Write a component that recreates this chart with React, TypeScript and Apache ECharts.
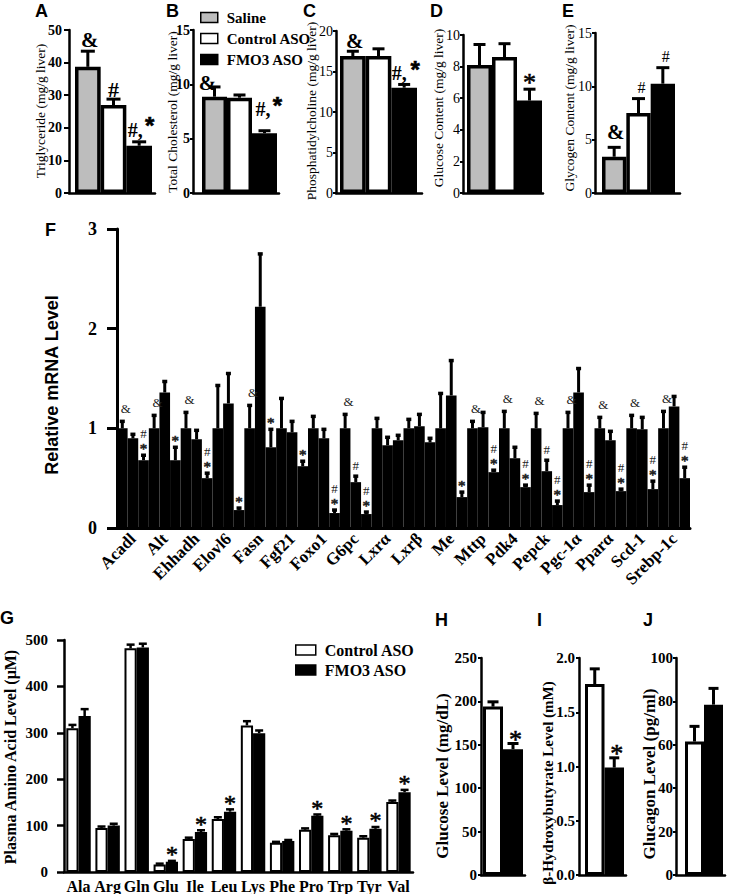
import React, { useEffect, useRef } from 'react';
import * as echarts from 'echarts';

const SERIF = '"Liberation Serif", "Times New Roman", Times, serif';
const SANS = '"Liberation Sans", Arial, Helvetica, sans-serif';
const GRAY = '#bdbdbd';
const WHITE = '#ffffff';
const BLACK = '#000000';

// ---------------- DATA ----------------
const groupNames = ['Saline', 'Control ASO', 'FMO3 ASO'];

// A
const triglyceride = [38.7, 27.0, 14.5];
const triglycerideErr = [4.8, 1.8, 1.2];
const triglycerideSig = ['&', '#', '#,*'];
// B
const cholesterol = [8.86, 8.77, 5.5];
const cholesterolErr = [0.9, 0.25, 0.23];
const cholesterolSig = ['&', '', '#,*'];
// C
const phosphatidylcholine = [16.9, 16.9, 13.0];
const phosphatidylcholineErr = [0.6, 0.9, 0.4];
const phosphatidylcholineSig = ['&', '', '#,*'];
// D
const glucoseContent = [8.1, 8.6, 5.85];
const glucoseContentErr = [1.3, 0.85, 0.72];
const glucoseContentSig = ['', '', '*'];
// E
const glycogenContent = [3.4, 7.5, 10.25];
const glycogenContentErr = [0.88, 1.35, 1.5];
const glycogenContentSig = ['&', '#', '#'];

// F
const genes = ['Acadl', 'Alt', 'Ehhadh', 'Elovl6', 'Fasn', 'Fgf21', 'Foxo1', 'G6pc', 'Lxrα', 'Lxrβ', 'Me', 'Mttp', 'Pdk4', 'Pepck', 'Pgc-1α', 'Pparα', 'Scd-1', 'Srebp-1c'];
const mrnaSaline = [1, 1, 1, 1, 1, 1, 1, 1, 1, 1, 1, 1, 1, 1, 1, 1, 1, 1];
const mrnaSalineErr = [0.07, 0.13, 0.16, 0.43, 0.23, 0.3, 0.12, 0.14, 0.1, 0.09, 0.35, 0.07, 0.17, 0.15, 0.16, 0.11, 0.13, 0.17];
const mrnaSalineSig = ['&', '&', '&', '', '&', '', '', '&', '', '', '', '&', '&', '&', '&', '&', '&', '&'];
const mrnaControl = [0.9, 1.36, 0.89, 1.25, 2.22, 0.96, 0.9, 0.46, 0.83, 1.02, 1.33, 1.01, 0.7, 0.57, 1.36, 0.88, 0.99, 1.22];
const mrnaControlErr = [0.04, 0.11, 0.09, 0.3, 0.53, 0.11, 0.09, 0.06, 0.08, 0.12, 0.35, 0.15, 0.11, 0.11, 0.24, 0.09, 0.12, 0.1];
const mrnaControlSig = ['', '', '', '', '', '', '', '#', '', '', '', '', '', '#', '', '', '', ''];
const mrnaFmo3 = [0.68, 0.68, 0.5, 0.18, 0.81, 0.62, 0.15, 0.14, 0.88, 0.86, 0.31, 0.56, 0.41, 0.23, 0.36, 0.37, 0.39, 0.5];
const mrnaFmo3Err = [0.05, 0.13, 0.05, 0.02, 0.18, 0.05, 0.03, 0.02, 0.05, 0.04, 0.05, 0.02, 0.02, 0.04, 0.07, 0.02, 0.08, 0.11];
const mrnaFmo3Sig = ['#*', '*', '#*', '*', '*', '*', '#*', '#*', '', '', '*', '#*', '#*', '#*', '#*', '#*', '#*', '#*'];

// G
const aminoAcids = ['Ala', 'Arg', 'Gln', 'Glu', 'Ile', 'Leu', 'Lys', 'Phe', 'Pro', 'Trp', 'Tyr', 'Val'];
const aaControl = [310, 95, 482, 16, 71, 114, 316, 63, 91, 79, 74, 151];
const aaControlErr = [7, 3, 8, 2, 3, 4, 9, 2, 3, 3, 3, 3];
const aaControlSig = ['', '', '', '', '', '', '', '', '', '', '', ''];
const aaFmo3 = [336, 100, 484, 22, 86, 130, 299, 67, 121, 89, 93, 172];
const aaFmo3Err = [15, 4, 8, 2, 4, 5, 6, 2, 3, 3, 4, 5];
const aaFmo3Sig = ['', '', '', '*', '*', '*', '', '', '*', '*', '*', '*'];

// H, I, J
const plasmaGlucose = [194, 145];
const plasmaGlucoseErr = [5.5, 6.5];
const plasmaGlucoseSig = ['', '*'];
const hydroxybutyrate = [1.76, 0.99];
const hydroxybutyrateErr = [0.14, 0.09];
const hydroxybutyrateSig = ['', '*'];
const glucagon = [61.5, 78.5];
const glucagonErr = [7, 7.5];
const glucagonSig = ['', ''];

// ---------------- LAYOUT / STYLE ----------------
type SigPart = [string, number, number, string, number, boolean];
type SigSpec = Record<string, SigPart[]>;

const SIG_A: SigSpec = {
  '&': [['&', 2, -11, SERIF, 21, true]],
  '#': [['#', 0, -10, SERIF, 22, true]],
  '#,*': [['#,', -4, -12, SERIF, 20, true], ['*', 10.5, -22, SANS, 24, true]],
};
const SIG_B: SigSpec = {
  '&': [['&', -7, -4, SERIF, 21, true]],
  '#,*': [['#,', -1.5, -22, SERIF, 20, true], ['*', 13, -31, SANS, 24, true]],
};
const SIG_C: SigSpec = {
  '&': [['&', 2, -10, SERIF, 21, true]],
  '#,*': [['#,', -5, -11, SERIF, 20, true], ['*', 11, -20, SANS, 24, true]],
};
const SIG_D: SigSpec = { '*': [['*', 0, -10, SERIF, 26, false]] };
const SIG_E: SigSpec = {
  '&': [['&', 1.5, -15, SERIF, 21, true]],
  '#': [['#', 3, -11.5, SERIF, 16, false]],
};
const SIG_HI: SigSpec = { '*': [['*', 2.5, -8, SERIF, 26, false]] };
const SIG_G: SigSpec = { '*': [['*', 0, -10, SERIF, 24, false]] };
const SIG_F: SigSpec = {
  '&': [['&', 3.5, -13, SERIF, 13, false]],
  '#': [['#', 0, -11, SERIF, 13, false]],
  '*': [['*', 0, -8, SERIF, 15, false]],
  '#*': [['#', 0, -22, SERIF, 13, false], ['*', 0, -8, SERIF, 15, false]],
};

function sigElements(spec: SigSpec, sym: string, x: number, y: number, fill: string) {
  const parts = spec[sym];
  if (!sym || !parts) return [];
  return parts.map(([text, dx, dy, family, size, bold]) => {
    let yy = y + dy;
    const star = text === '*';
    if (star) yy += size * (family === SANS ? 0.22 : 0.14);
    return {
      type: 'text',
      x: x + dx,
      y: yy,
      style: {
        text,
        fontFamily: family,
        fontSize: size,
        fontWeight: bold ? 'bold' : 'normal',
        fill,
        stroke: star ? fill : null,
        lineWidth: star ? 0.6 : 0,
        align: 'center',
        verticalAlign: 'middle',
      },
    };
  });
}

const smallPanels = [
  { values: triglyceride, errs: triglycerideErr, sigs: triglycerideSig, colors: [GRAY, WHITE, BLACK], left: 69, top: 30, width: 86, height: 163, padL: 6, padR: 3, yMax: 50, yInterval: 10, decimals: 0, tickFont: 14, tickBold: true, labelMargin: 7, tickLen: 5, border: 3.5, errW: 3, capW: 14, spec: SIG_A },
  { values: cholesterol, errs: cholesterolErr, sigs: cholesterolSig, colors: [GRAY, WHITE, BLACK], left: 193, top: 30, width: 86, height: 163, padL: 9, padR: 2, yMax: 15, yInterval: 5, decimals: 0, tickFont: 14, tickBold: true, labelMargin: 3, tickLen: 3, border: 3.5, errW: 3, capW: 12, spec: SIG_B },
  { values: phosphatidylcholine, errs: phosphatidylcholineErr, sigs: phosphatidylcholineSig, colors: [GRAY, WHITE, BLACK], left: 336, top: 31, width: 86, height: 162, padL: 4, padR: 5, yMax: 20, yInterval: 5, decimals: 0, tickFont: 14, tickBold: false, labelMargin: 3, tickLen: 3, border: 3.5, errW: 3, capW: 12, spec: SIG_C },
  { values: glucoseContent, errs: glucoseContentErr, sigs: glucoseContentSig, colors: [GRAY, WHITE, BLACK], left: 463, top: 35, width: 80, height: 158, padL: 4, padR: 1, yMax: 10, yInterval: 2, decimals: 0, tickFont: 14, tickBold: false, labelMargin: 3, tickLen: 3, border: 3.5, errW: 3, capW: 12, spec: SIG_D },
  { values: glycogenContent, errs: glycogenContentErr, sigs: glycogenContentSig, colors: [GRAY, WHITE, BLACK], left: 595, top: 33, width: 85, height: 160, padL: 7, padR: 5, yMax: 15, yInterval: 5, decimals: 0, tickFont: 14, tickBold: false, labelMargin: 3, tickLen: 3, border: 3.5, errW: 3, capW: 13, spec: SIG_E },
  { values: plasmaGlucose, errs: plasmaGlucoseErr, sigs: plasmaGlucoseSig, colors: [WHITE, BLACK], left: 481, top: 658, width: 44, height: 217, padL: 2, padR: 2, yMax: 250, yInterval: 50, decimals: 0, tickFont: 15, tickBold: true, labelMargin: 4, tickLen: 3, border: 3, errW: 3, capW: 11, spec: SIG_HI },
  { values: hydroxybutyrate, errs: hydroxybutyrateErr, sigs: hydroxybutyrateSig, colors: [WHITE, BLACK], left: 579, top: 658, width: 47, height: 217, padL: 6, padR: 2, yMax: 2, yInterval: 0.5, decimals: 1, tickFont: 15, tickBold: true, labelMargin: 4, tickLen: 3, border: 3, errW: 3, capW: 10, spec: SIG_HI },
  { values: glucagon, errs: glucagonErr, sigs: glucagonSig, colors: [WHITE, BLACK], left: 676, top: 658, width: 49, height: 217, padL: 9, padR: 2, yMax: 100, yInterval: 20, decimals: 0, tickFont: 15, tickBold: true, labelMargin: 3, tickLen: 3, border: 3, errW: 3, capW: 10, spec: SIG_HI },
];

const titles = [
  { text: 'Triglyceride (mg/g liver)', x: 40, y: 111, size: 13.5, bold: false, family: SERIF },
  { text: 'Total Cholesterol (mg/g liver)', x: 172, y: 112, size: 13.5, bold: false, family: SERIF },
  { text: 'Phosphatidylcholine (mg/g liver)', x: 311, y: 111, size: 13.5, bold: false, family: SERIF },
  { text: 'Glucose Content (mg/g liver)', x: 438, y: 108, size: 13.5, bold: false, family: SERIF },
  { text: 'Glycogen Content (mg/g liver)', x: 569, y: 108, size: 13.5, bold: false, family: SERIF },
  { text: 'Relative mRNA Level', x: 52, y: 385, size: 18, bold: true, family: SANS },
  { text: 'Plasma Amino Acid Level (μM)', x: 10, y: 757, size: 16, bold: true, family: SERIF },
  { text: 'Glucose Level (mg/dL)', x: 442, y: 776, size: 17, bold: true, family: SERIF },
  { text: 'β-Hydroxybutyrate Level (mM)', x: 548, y: 783, size: 15, bold: true, family: SERIF },
  { text: 'Glucagon Level (pg/ml)', x: 649, y: 774, size: 17, bold: true, family: SERIF },
];

const letters: [string, number, number][] = [
  ['A', 35, 2], ['B', 166, 2], ['C', 303, 2], ['D', 430, 2], ['E', 562, 2],
  ['F', 45, 221], ['G', 0, 609], ['H', 435, 611], ['I', 537, 611], ['J', 643, 611],
];

function buildOption() {
  const grid: any[] = [];
  const xAxis: any[] = [];
  const yAxis: any[] = [];
  const series: any[] = [];
  const graphic: any[] = [];

  const axisLine = (w: number) => ({ show: true, onZero: false, lineStyle: { color: BLACK, width: w } });

  // Small panels A-E, H-J
  smallPanels.forEach((p) => {
    const gi = grid.length;
    const n = p.values.length;
    const barPx = (p.width - p.padL - p.padR) / n;
    grid.push({ left: p.left, top: p.top, width: p.width, height: p.height });
    xAxis.push({
      type: 'value', gridIndex: gi, min: -p.padL / barPx, max: n + p.padR / barPx,
      axisLine: axisLine(2.5), axisTick: { show: false }, axisLabel: { show: false }, splitLine: { show: false },
    });
    yAxis.push({
      type: 'value', gridIndex: gi, min: 0, max: p.yMax, interval: p.yInterval,
      axisLine: axisLine(2.5),
      axisTick: { show: p.tickLen > 0, length: p.tickLen, lineStyle: { color: BLACK, width: 2 } },
      axisLabel: {
        color: BLACK, fontFamily: SERIF, fontSize: p.tickFont, fontWeight: p.tickBold ? 'bold' : 'normal',
        margin: p.labelMargin, formatter: (v: number) => v.toFixed(p.decimals),
      },
      splitLine: { show: false },
    });
    series.push({
      type: 'bar', xAxisIndex: gi, yAxisIndex: gi, barWidth: barPx, silent: true, clip: false,
      data: p.values.map((v, i) => ({ value: [i + 0.5, v], itemStyle: { color: p.colors[i] } })),
      itemStyle: { borderColor: BLACK, borderWidth: p.border },
    });
    series.push({
      type: 'custom', xAxisIndex: gi, yAxisIndex: gi, z: 5, silent: true, clip: false,
      data: p.values.map((v, i) => [i + 0.5, v, p.errs[i]]),
      renderItem: (params: any, api: any) => {
        const x = api.value(0), v = api.value(1), e = api.value(2);
        const b = api.coord([x, v]);
        const t = api.coord([x, v + e]);
        const children: any[] = [
          { type: 'line', shape: { x1: b[0], y1: b[1], x2: t[0], y2: t[1] }, style: { stroke: BLACK, lineWidth: p.errW } },
          { type: 'line', shape: { x1: t[0] - p.capW / 2, y1: t[1], x2: t[0] + p.capW / 2, y2: t[1] }, style: { stroke: BLACK, lineWidth: p.errW } },
          ...sigElements(p.spec, p.sigs[params.dataIndex], t[0], t[1], BLACK),
        ];
        return { type: 'group', children };
      },
    });
  });

  // Panel F
  const fi = grid.length;
  grid.push({ left: 117, top: 229, width: 573, height: 299 });
  xAxis.push({
    type: 'category', gridIndex: fi, data: genes,
    axisLine: axisLine(3), axisTick: { show: false },
    axisLabel: { interval: 0, rotate: 45, fontFamily: SERIF, fontSize: 17, fontWeight: 'bold', color: BLACK, margin: 8 },
    splitLine: { show: false },
  });
  yAxis.push({
    type: 'value', gridIndex: fi, min: 0, max: 3, interval: 1,
    axisLine: axisLine(3), axisTick: { show: true, length: 10, lineStyle: { color: BLACK, width: 3 } },
    axisLabel: { fontFamily: SERIF, fontSize: 18, fontWeight: 'bold', color: BLACK, margin: 20 },
    splitLine: { show: false },
  });
  const fGroups = [
    { name: groupNames[0], values: mrnaSaline, errs: mrnaSalineErr, sigs: mrnaSalineSig, color: GRAY },
    { name: groupNames[1], values: mrnaControl, errs: mrnaControlErr, sigs: mrnaControlSig, color: WHITE },
    { name: groupNames[2], values: mrnaFmo3, errs: mrnaFmo3Err, sigs: mrnaFmo3Sig, color: BLACK },
  ];
  fGroups.forEach((g) => {
    series.push({
      type: 'bar', name: g.name, xAxisIndex: fi, yAxisIndex: fi, barGap: '0%', barCategoryGap: '0%', silent: true,
      data: g.values, itemStyle: { color: g.color, borderColor: BLACK, borderWidth: 6.5 },
    });
  });
  fGroups.forEach((g, k) => {
    series.push({
      type: 'custom', xAxisIndex: fi, yAxisIndex: fi, z: 5, silent: true, clip: false,
      data: g.values.map((v, i) => [i, v, g.errs[i]]),
      renderItem: (params: any, api: any) => {
        const band = api.size([1, 0])[0];
        const bw = band / 3;
        const c = api.value(0), v = api.value(1), e = api.value(2);
        const b = api.coord([c, v]);
        const t = api.coord([c, v + e]);
        const x = b[0] + (k - 1) * bw;
        const children: any[] = [
          { type: 'line', shape: { x1: x, y1: b[1], x2: x, y2: t[1] }, style: { stroke: BLACK, lineWidth: 3 } },
          { type: 'line', shape: { x1: x - 2.5, y1: t[1], x2: x + 2.5, y2: t[1] }, style: { stroke: BLACK, lineWidth: 3.5 } },
          ...sigElements(SIG_F, g.sigs[params.dataIndex], x, t[1], '#222'),
        ];
        return { type: 'group', children };
      },
    });
  });

  // Panel G
  const gIdx = grid.length;
  grid.push({ left: 64, top: 640, width: 349, height: 233 });
  xAxis.push({
    type: 'category', gridIndex: gIdx, data: aminoAcids,
    axisLine: axisLine(2.5), axisTick: { show: false },
    axisLabel: { interval: 0, fontFamily: SERIF, fontSize: 16, fontWeight: 'bold', color: BLACK, margin: 6 },
    splitLine: { show: false },
  });
  yAxis.push({
    type: 'value', gridIndex: gIdx, min: 0, max: 500, interval: 100,
    axisLine: axisLine(2.5), axisTick: { show: true, length: 7, lineStyle: { color: BLACK, width: 2.5 } },
    axisLabel: { fontFamily: SERIF, fontSize: 15, fontWeight: 'bold', color: BLACK, margin: 16 },
    splitLine: { show: false },
  });
  const gapG = 0.16;
  const gGroups = [
    { name: groupNames[1], values: aaControl, errs: aaControlErr, sigs: aaControlSig, color: WHITE },
    { name: groupNames[2], values: aaFmo3, errs: aaFmo3Err, sigs: aaFmo3Sig, color: BLACK },
  ];
  gGroups.forEach((g) => {
    series.push({
      type: 'bar', name: g.name, xAxisIndex: gIdx, yAxisIndex: gIdx, barGap: '0%', barCategoryGap: gapG * 100 + '%', silent: true,
      data: g.values, itemStyle: { color: g.color, borderColor: BLACK, borderWidth: 2 },
    });
  });
  gGroups.forEach((g, k) => {
    series.push({
      type: 'custom', xAxisIndex: gIdx, yAxisIndex: gIdx, z: 5, silent: true, clip: false,
      data: g.values.map((v, i) => [i, v, g.errs[i]]),
      renderItem: (params: any, api: any) => {
        const band = api.size([1, 0])[0];
        const bw = (band * (1 - gapG)) / 2;
        const c = api.value(0), v = api.value(1), e = api.value(2);
        const b = api.coord([c, v]);
        const t = api.coord([c, v + e]);
        const x = b[0] + (k - 0.5) * bw;
        const children: any[] = [
          { type: 'line', shape: { x1: x, y1: b[1], x2: x, y2: t[1] }, style: { stroke: BLACK, lineWidth: 2.5 } },
          { type: 'line', shape: { x1: x - 4, y1: t[1], x2: x + 4, y2: t[1] }, style: { stroke: BLACK, lineWidth: 2.5 } },
          ...sigElements(SIG_G, g.sigs[params.dataIndex], x, t[1], BLACK),
        ];
        return { type: 'group', children };
      },
    });
  });

  // Titles and panel letters
  titles.forEach((t) => {
    graphic.push({
      type: 'text', x: t.x, y: t.y, rotation: Math.PI / 2, silent: true,
      style: { text: t.text, fontFamily: t.family, fontSize: t.size, fontWeight: t.bold ? 'bold' : 'normal', fill: BLACK, align: 'center', verticalAlign: 'middle' },
    });
  });
  letters.forEach(([l, x, y]) => {
    graphic.push({
      type: 'text', x, y, silent: true,
      style: { text: l, fontFamily: SANS, fontSize: 18, fontWeight: 'bold', fill: BLACK, align: 'left', verticalAlign: 'top' },
    });
  });

  const legendText = (size: number) => ({ fontFamily: SERIF, fontSize: size, fontWeight: 'bold', color: BLACK, padding: [0, 0, 0, 4] });

  return {
    animation: false,
    backgroundColor: '#ffffff',
    grid,
    xAxis,
    yAxis,
    series,
    graphic,
    legend: [
      {
        data: groupNames, orient: 'vertical', left: 200, top: 10, padding: 0, itemWidth: 17, itemHeight: 10, itemGap: 6,
        icon: 'rect', selectedMode: false, textStyle: legendText(15), itemStyle: { borderColor: BLACK, borderWidth: 1.5 },
      },
      {
        data: groupNames.slice(1), orient: 'vertical', left: 295, top: 642, padding: 0, itemWidth: 20, itemHeight: 10, itemGap: 4,
        icon: 'rect', selectedMode: false, textStyle: legendText(16), itemStyle: { borderColor: BLACK, borderWidth: 1.5 },
      },
    ],
  };
}

export default function App() {
  const ref = useRef<HTMLDivElement>(null);
  useEffect(() => {
    if (!ref.current) return;
    const chart = echarts.init(ref.current, null, { renderer: 'svg' });
    chart.setOption(buildOption() as any);
    return () => chart.dispose();
  }, []);
  return <div ref={ref} style={{ position: 'fixed', left: 0, top: 0, width: 730, height: 894, background: '#fff' }} />;
}
